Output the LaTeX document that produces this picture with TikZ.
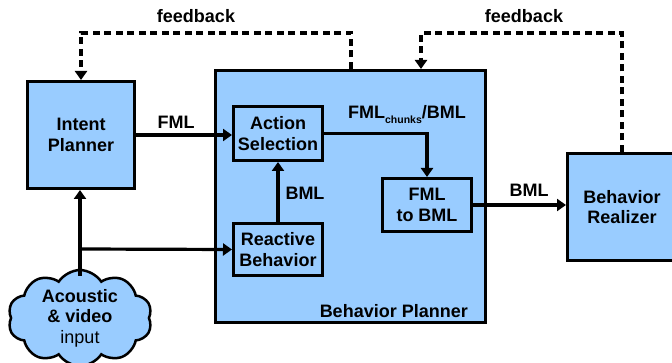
\documentclass[tikz,border=0pt]{standalone}
\usepackage{fontspec}
\setmainfont{Liberation Sans}
\usetikzlibrary{arrows.meta,shapes.symbols,calc}
\definecolor{boxblue}{RGB}{153,204,255}
\begin{document}
\begin{tikzpicture}[x=1pt,y=-1pt,
  font=\fontsize{18}{20.5}\selectfont\bfseries,
  blk/.style={draw=black,fill=boxblue,line width=3pt,align=center,inner sep=0pt},
  arr/.style={line width=3.2pt,-{Triangle[width=12pt,length=9pt]}},
  fbk/.style={line width=3.2pt,dash pattern=on 7pt off 4.5pt,-{Triangle[width=12pt,length=9pt]}},
  lbl/.style={inner sep=0pt}]
\useasboundingbox (0,0) rectangle (672,363);
% boxes
\node[blk,minimum width=107,minimum height=107] (ip) at (81,135) {Intent\\Planner};
\node[blk,minimum width=270,minimum height=252] (bp) at (350.5,196.5) {};
\node[lbl,anchor=east] (bpl) at (468,311) {Behavior Planner};
\node[blk,minimum width=89,minimum height=54] (as) at (278,133.5) {Action\\Selection};
\node[blk,minimum width=89,minimum height=52] (rb) at (278,249.5) {Reactive\\Behavior};
\node[blk,minimum width=89,minimum height=53] (fb) at (427,205) {FML\\to BML};
\node[blk,minimum width=109,minimum height=107] (brz) at (622,207) {Behavior\\Realizer};
\node[cloud,cloud puffs=10,cloud puff arc=115,cloud ignores aspect,draw=black,fill=boxblue,line width=2.5pt,
  minimum width=144,minimum height=88,align=center,inner sep=0pt] (cl) at (80,318)
  {Acoustic\\\& video\\\mdseries input};
% connectors
\coordinate (br) at (80,249);
\coordinate (cltop) at (80,276);
\draw[arr] (ip.east) -- (ip.east -| as.west);
\draw[arr] (as.east) -| (fb.north);
\draw[arr] (rb.north) -- (as.south);
\draw[arr] (cltop) -- (cltop |- ip.south);
\draw[arr] (br) -- (rb.west);
\draw[arr] (fb.east) -- (fb.east -| brz.west);
\coordinate (f1) at (351,33);
\coordinate (f2) at (421,33);
\draw[fbk] (bp.north -| f1) -- (f1) -| (ip.north);
\draw[fbk] (brz.north) |- (f2) -- (bp.north -| f2);
% labels
\node[lbl] (lfb1) at (196,16) {feedback};
\node[lbl] (lfb2) at (524,16) {feedback};
\node[lbl] (lfml) at (176,122) {FML};
\node[lbl] (lchk) at (407,115) {FML\raisebox{-5pt}{\fontsize{10.5}{10}\selectfont chunks}/BML};
\node[lbl] (lbml1) at (305,193) {BML};
\node[lbl] (lbml2) at (529,190) {BML};
\end{tikzpicture}
\end{document}
